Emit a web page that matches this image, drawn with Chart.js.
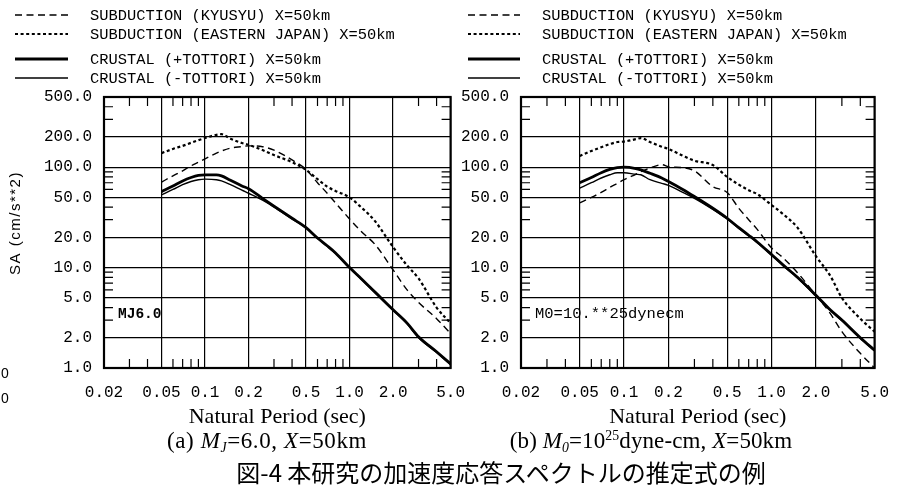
<!DOCTYPE html>
<html><head><meta charset="utf-8">
<script src="https://cdn.jsdelivr.net/npm/chart.js@4.4.0/dist/chart.umd.min.js"></script>
<style>
html,body{margin:0;padding:0;background:#fff;width:904px;height:493px;overflow:hidden;position:relative}
canvas{position:absolute;top:0}
#c1{left:0}
#c2{left:440px}
.cap{position:absolute;font-family:"Liberation Serif",serif;font-size:23px;line-height:22px;letter-spacing:0.6px;white-space:nowrap;color:#000;text-align:center}
.cap sub{font-size:60%;vertical-align:-0.3em;line-height:0}
.jp{position:absolute;font-family:"Noto Sans CJK JP",sans-serif;font-size:24px;line-height:24px;white-space:nowrap;color:#000;text-align:center}
.stray{position:absolute;left:1px;font-family:"Liberation Sans",sans-serif;font-size:14px;line-height:14px;color:#000}
</style></head><body>
<canvas id="c1" width="480" height="432"></canvas>
<canvas id="c2" width="464" height="432"></canvas>
<div class="cap" style="left:117px;top:430px;width:300px">(a) <i>M<sub>J</sub></i>=6.0, <i>X</i>=50km</div>
<div class="cap" style="left:501px;top:430px;width:300px;letter-spacing:0.1px">(b) <i>M<sub>0</sub></i>=10<sup style="font-size:60%;vertical-align:0.55em;line-height:0">25</sup>dyne-cm, <i>X</i>=50km</div>
<div class="jp" style="left:201px;top:460px;width:600px">図-4 本研究の加速度応答スペクトルの推定式の例</div>
<div class="stray" style="top:366px">0</div>
<div class="stray" style="top:391px">0</div>
<script>
// ---- data ----
const periods = [0.05,0.06,0.07,0.08,0.09,0.1,0.12,0.13,0.15,0.18,0.2,0.25,0.3,0.4,0.5,0.6,0.7,0.8,1.0,1.2,1.5,2.0,2.5,3.0,4.0,5.0];
const seriesNames = ['SUBDUCTION (KYUSYU) X=50km','SUBDUCTION (EASTERN JAPAN) X=50km','CRUSTAL (+TOTTORI) X=50km','CRUSTAL (-TOTTORI) X=50km'];
// (a) MJ=6.0
const kyusyuA  = [71,82,92,103,112,121,138,145,155,160,163,160,148,118,95,70,55,44,30.5,23,17,9.5,6.0,4.5,3.1,2.2];
const easternA = [138,152,163,175,186,195,210,213,192,174,167,148,132,112,94,76,64,58,50,40,29,16,10.5,7.8,4.0,2.8];
const plusTottoriA  = [57,65,73,79,83,84,84,82,74,65,61,49,41,31,25,19.7,16.5,14,10,7.8,5.7,3.8,2.8,2.05,1.45,1.1];
const minusTottoriA = [53,60,67,72,75,76,75,73,67,59,55,47,40,30.5,24.8,19.5,16.3,13.8,9.9,7.7,5.6,3.75,2.75,2.0,1.43,1.08];
// (b) M0=10**25 dyne-cm
const kyusyuB  = [44,50,56,63,69,75,85,90,98,106,101,99,92,64,56,39,30,24,15.7,12.5,8.9,5.3,3.5,2.3,1.4,1.0];
const easternB = [129,145,158,170,178,180,190,195,178,160,152,130,116,105,80,67,59,54,42,34,25,13,8.3,5.0,3.1,2.3];
const plusTottoriB  = [70,79,88,95,99,100,97,94,87,78,72,60,51,39,31,25,21,18,13.5,10.6,8.0,5.3,3.8,3.0,2.0,1.5];
const minusTottoriB = [62,70,78,84,88,88,85,84,75,69,66,56,49,38,30.5,24.6,20.7,17.7,13.3,10.4,7.9,5.2,3.75,2.95,1.97,1.48];
// axis ticks
const xTicks = [0.02,0.05,0.1,0.2,0.5,1,2,5];
const xTickLabels = ['0.02','0.05','0.1','0.2','0.5','1.0','2.0','5.0'];
const yTicks = [1,2,5,10,20,50,100,200,500];
const yTickLabels = ['1.0','2.0','5.0','10.0','20.0','50.0','100.0','200.0','500.0'];
const xMinor = [0.03,0.04,0.06,0.07,0.08,0.09,0.3,0.4,0.6,0.7,0.8,0.9,3,4];
const yMinor = [3,4,6,7,8,9,30,40,60,70,80,90,300,400];
const yTitle = 'SA (cm/s**2)';
const xTitle = 'Natural Period (sec)';

// ---- styles ----
const lineStyles = [
  {w:1.4, dash:[7,4.5]},
  {w:2.2, dash:[3,2.6]},
  {w:2.8, dash:[]},
  {w:1.4, dash:[]}
];

function mkSets(arrs){
  return arrs.map((vals,k)=>({
    label: seriesNames[k],
    data: periods.map((p,i)=>({x:p,y:vals[i]})),
    borderColor:'#000', borderWidth:lineStyles[k].w, borderDash:lineStyles[k].dash,
    pointRadius:0, fill:false, cubicInterpolationMode:'monotone'
  }));
}

function makeDeco(o){
  return {
    id:'deco',
    afterDraw(chart){
      const {ctx, chartArea:a, scales:{x,y}} = chart;
      ctx.save();
      ctx.strokeStyle='#000'; ctx.fillStyle='#000';
      ctx.lineWidth=1.2; ctx.setLineDash([]);
      ctx.beginPath();
      xMinor.forEach(v=>{const px=x.getPixelForValue(v);
        ctx.moveTo(px,a.bottom); ctx.lineTo(px,a.bottom-9);
        ctx.moveTo(px,a.top); ctx.lineTo(px,a.top+9);});
      yMinor.forEach(v=>{const py=y.getPixelForValue(v);
        ctx.moveTo(a.left,py); ctx.lineTo(a.left+9,py);
        ctx.moveTo(a.right,py); ctx.lineTo(a.right-9,py);});
      ctx.stroke();
      ctx.lineWidth=2.2;
      ctx.strokeRect(a.left,a.top,a.right-a.left,a.bottom-a.top);
      // legend
      ctx.font='15.4px "Liberation Mono", monospace';
      ctx.textBaseline='middle'; ctx.textAlign='left';
      chart.data.datasets.forEach((ds,k)=>{
        const yy=o.rows[k];
        ctx.lineWidth=ds.borderWidth; ctx.setLineDash(ds.borderDash);
        ctx.beginPath(); ctx.moveTo(o.sx0,yy); ctx.lineTo(o.sx1,yy); ctx.stroke();
        ctx.fillText(ds.label,o.tx,yy+1);
      });
      ctx.setLineDash([]);
      // annotation
      ctx.font=o.noteFont;
      ctx.fillText(o.note,o.nx,o.ny);
      // y title
      if(o.yTitle){
        ctx.save();
        ctx.font='15px "Liberation Sans", sans-serif';
        ctx.letterSpacing='1.5px';
        ctx.translate(16,223); ctx.rotate(-Math.PI/2);
        ctx.textAlign='center';
        ctx.fillText(o.yTitle,0,0);
        ctx.restore();
      }
      ctx.restore();
    }
  };
}

function mkChart(id, sets, yw, padRight, decoOpts){
  return new Chart(document.getElementById(id), {
    type:'line',
    data:{datasets:sets},
    options:{
      responsive:false, animation:false, devicePixelRatio:1,
      layout:{padding:{left:0,right:padRight,top:97,bottom:2}},
      plugins:{legend:{display:false}, tooltip:{enabled:false}},
      scales:{
        x:{type:'logarithmic', min:0.02, max:5,
           afterBuildTicks:s=>{s.ticks=xTicks.map(v=>({value:v}));},
           afterFit:s=>{s.height=62;},
           grid:{color:'#000', lineWidth:1.2, drawTicks:false},
           border:{display:false},
           ticks:{color:'#000', padding:15, maxRotation:0, autoSkip:false,
             font:{family:'"Liberation Mono", monospace', size:16},
             callback:(v)=>{const i=xTicks.indexOf(v); return i>=0?xTickLabels[i]:'';}},
           title:{display:true, text:xTitle, color:'#000', padding:{top:0,bottom:0},
             font:{family:'"Liberation Serif", serif', size:22, lineHeight:1.2}}
        },
        y:{type:'logarithmic', min:1, max:500,
           afterBuildTicks:s=>{s.ticks=yTicks.map(v=>({value:v}));},
           afterFit:s=>{s.width=yw;},
           grid:{color:'#000', lineWidth:1.2, drawTicks:false},
           border:{display:false},
           ticks:{color:'#000', padding:12, autoSkip:false,
             font:{family:'"Liberation Mono", monospace', size:16},
             callback:(v)=>{const i=yTicks.indexOf(v); return i>=0?yTickLabels[i]:'';}}
        }
      }
    },
    plugins:[makeDeco(decoOpts)]
  });
}

mkChart('c1', mkSets([kyusyuA,easternA,plusTottoriA,minusTottoriA]), 104, 24,
  {rows:[15,34,59,78], sx0:15, sx1:68, tx:90, note:'MJ6.0', nx:118, ny:314,
   noteFont:'bold 14.5px "Liberation Mono", monospace', yTitle:yTitle});
mkChart('c2', mkSets([kyusyuB,easternB,plusTottoriB,minusTottoriB]), 81, 28,
  {rows:[15,34,59,78], sx0:28, sx1:80, tx:102, note:'M0=10.**25dynecm', nx:95, ny:314,
   noteFont:'15.5px "Liberation Mono", monospace', yTitle:null});
</script>
</body></html>
